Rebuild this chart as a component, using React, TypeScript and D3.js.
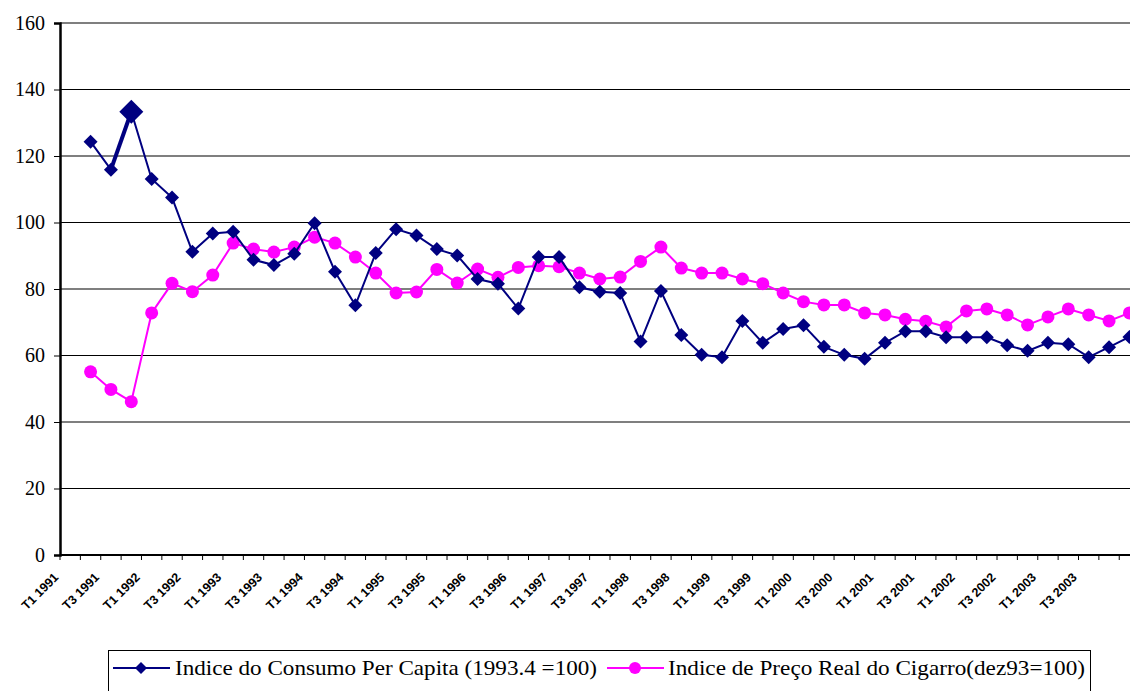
import React, { useEffect, useRef } from 'react';
import * as d3 from 'd3';

// quarters T1 1991 .. T2 2004 (first quarter has no data)
const years = d3.range(1991, 2005);
const quarters = years.flatMap(y => [1, 2, 3, 4].map(q => 'T' + q + ' ' + y)).slice(0, 54);

const consumo = [null,
  124.3, 115.9, 133.3, 113.1, 107.5, 91.2, 96.7, 97.2, 88.8, 87.2,
  90.6, 99.8, 85.2, 75.1, 90.8, 98.0, 96.1, 92.0, 90.1, 83.0,
  81.6, 74.1, 89.6, 89.6, 80.5, 79.2, 78.8, 64.2, 79.4, 66.2,
  60.2, 59.5, 70.4, 63.8, 68.0, 69.1, 62.6, 60.2, 59.0, 63.8,
  67.3, 67.3, 65.5, 65.5, 65.5, 63.1, 61.4, 63.8, 63.4, 59.5,
  62.5, 65.6];

const preco = [null,
  55.1, 49.8, 46.1, 72.8, 81.7, 79.2, 84.2, 93.8, 92.0, 91.1,
  92.6, 95.6, 93.8, 89.6, 84.8, 78.8, 79.1, 85.9, 81.8, 86.0,
  83.5, 86.5, 87.0, 86.7, 84.8, 83.0, 83.6, 88.3, 92.6, 86.3,
  84.8, 84.8, 83.0, 81.6, 78.8, 76.2, 75.2, 75.2, 72.8, 72.2,
  70.9, 70.3, 68.6, 73.4, 74.0, 72.2, 69.2, 71.6, 74.0, 72.2,
  70.4, 72.8];

const yTicks = [0, 20, 40, 60, 80, 100, 120, 140, 160];
const highlighted = 3; // enlarged point on the consumption series

const legendItems = [
  'Indice do Consumo Per Capita (1993.4 =100)',
  'Indice de Preço Real do Cigarro(dez93=100)',
];

const SERIF = 'Times New Roman, Liberation Serif, Times, serif';

const App = () => {
  const ref = useRef<SVGSVGElement>(null);

  useEffect(() => {
    const svg = d3.select(ref.current);
    svg.selectAll('*').remove();

    const left = 60, top = 23, bottom = 555;
    const step = 20.37;

    const x = d3.scaleBand<number>()
      .domain(d3.range(quarters.length))
      .range([left, left + quarters.length * step])
      .paddingInner(0).paddingOuter(0);
    const y = d3.scaleLinear().domain([0, 160]).range([bottom, top]);
    const cx = (i: number) => (x(i) as number) + x.bandwidth() / 2;

    // gridlines
    svg.append('g')
      .selectAll('line')
      .data(yTicks.slice(1))
      .enter().append('line')
      .attr('x1', left).attr('x2', 1130)
      .attr('y1', d => y(d)).attr('y2', d => y(d))
      .attr('stroke', '#000').attr('stroke-width', 1.2);

    // y axis
    const yAxis = svg.append('g')
      .attr('transform', 'translate(' + left + ',0)')
      .call(d3.axisLeft(y).tickValues(yTicks).tickSize(6).tickPadding(9));
    yAxis.attr('font-family', SERIF).attr('font-size', 20);
    yAxis.select('.domain').attr('stroke', '#000').attr('stroke-width', 2.5);
    yAxis.selectAll('.tick line').attr('stroke', '#000');
    yAxis.selectAll('text').attr('fill', '#000');

    // x axis
    const xg = svg.append('g').attr('transform', 'translate(0,' + bottom + ')');
    xg.append('line').attr('x1', left).attr('x2', 1130).attr('y1', 0).attr('y2', 0)
      .attr('stroke', '#000').attr('stroke-width', 2);
    xg.selectAll('line.tk')
      .data(d3.range(quarters.length + 1))
      .enter().append('line')
      .attr('class', 'tk')
      .attr('x1', d => left + d * step).attr('x2', d => left + d * step)
      .attr('y1', 0).attr('y2', 5)
      .attr('stroke', '#000');
    xg.selectAll('text')
      .data(d3.range(0, 51, 2))
      .enter().append('text')
      .attr('transform', d => 'translate(' + (cx(d) - 14) + ',20) rotate(-45)')
      .attr('text-anchor', 'end')
      .attr('dy', '0.35em')
      .attr('font-family', 'Arial, Liberation Sans, sans-serif')
      .attr('font-weight', 'bold')
      .attr('font-size', 12.5)
      .text(d => quarters[d]);

    const line = d3.line<number | null>()
      .defined(d => d != null)
      .x((d, i) => cx(i))
      .y(d => y(d as number));

    // price series
    svg.append('path').datum(preco)
      .attr('d', line)
      .attr('fill', 'none').attr('stroke', '#ff00ff').attr('stroke-width', 2);
    svg.append('g').selectAll('circle')
      .data(preco.map((v, i) => ({ v, i })).filter(d => d.v != null))
      .enter().append('circle')
      .attr('cx', d => cx(d.i)).attr('cy', d => y(d.v as number))
      .attr('r', 6.5).attr('fill', '#ff00ff');

    // consumption series
    svg.append('path').datum(consumo)
      .attr('d', line)
      .attr('fill', 'none').attr('stroke', '#000080').attr('stroke-width', 2);
    svg.append('path').datum(consumo.map((v, i) => (i === highlighted - 1 || i === highlighted ? v : null)))
      .attr('d', line)
      .attr('fill', 'none').attr('stroke', '#000080').attr('stroke-width', 4);
    const diamond = (s: number) => 'M0,' + -s + 'L' + s + ',0L0,' + s + 'L' + -s + ',0Z';
    svg.append('g').selectAll('path')
      .data(consumo.map((v, i) => ({ v, i })).filter(d => d.v != null))
      .enter().append('path')
      .attr('transform', d => 'translate(' + cx(d.i) + ',' + y(d.v as number) + ')')
      .attr('d', d => diamond(d.i === highlighted ? 12 : 7))
      .attr('fill', '#000080');

    // legend
    const lg = svg.append('g').attr('font-family', SERIF).attr('font-size', 21);
    lg.append('rect').attr('x', 108.5).attr('y', 650.5).attr('width', 982).attr('height', 50)
      .attr('fill', '#fff').attr('stroke', '#000').attr('stroke-width', 1);
    const items = [
      { x0: 113, tx: 175, tw: 422, color: '#000080', shape: 'diamond' },
      { x0: 607, tx: 668, tw: 417, color: '#ff00ff', shape: 'circle' },
    ];
    items.forEach((it, k) => {
      lg.append('line').attr('x1', it.x0).attr('x2', it.x0 + 57).attr('y1', 668).attr('y2', 668)
        .attr('stroke', it.color).attr('stroke-width', 2);
      if (it.shape === 'diamond') {
        lg.append('path').attr('transform', 'translate(' + (it.x0 + 28) + ',668)')
          .attr('d', diamond(6)).attr('fill', it.color);
      } else {
        lg.append('circle').attr('cx', it.x0 + 28).attr('cy', 668).attr('r', 6).attr('fill', it.color);
      }
      lg.append('text').attr('x', it.tx).attr('y', 668).attr('dy', '0.35em')
        .attr('textLength', it.tw).attr('lengthAdjust', 'spacingAndGlyphs')
        .text(legendItems[k]);
    });
  }, []);

  return (
    <svg ref={ref} width={1130} height={691}
      style={{ position: 'absolute', left: 0, top: 0, background: '#fff' }} />
  );
};

export default App;
